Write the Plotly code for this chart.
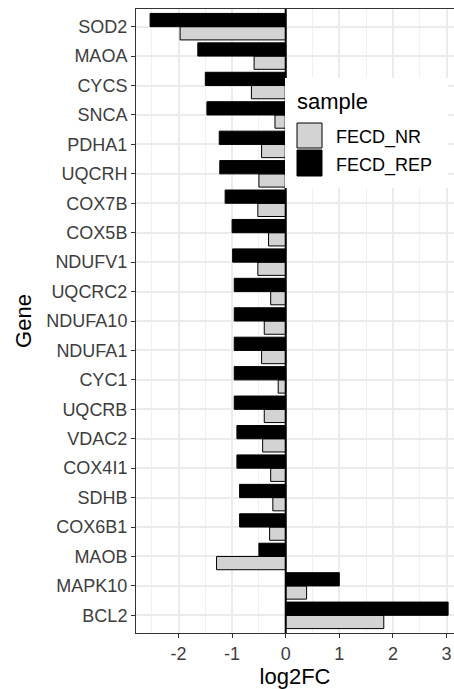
import plotly.graph_objects as go

genes = ["SOD2", "MAOA", "CYCS", "SNCA", "PDHA1", "UQCRH", "COX7B", "COX5B",
         "NDUFV1", "UQCRC2", "NDUFA10", "NDUFA1", "CYC1", "UQCRB", "VDAC2",
         "COX4I1", "SDHB", "COX6B1", "MAOB", "MAPK10", "BCL2"]
fecd_rep = [-2.53, -1.64, -1.50, -1.47, -1.24, -1.23, -1.13, -1.00,
            -0.99, -0.96, -0.96, -0.96, -0.96, -0.96, -0.91,
            -0.91, -0.86, -0.86, -0.50, 1.00, 3.03]
fecd_nr = [-1.97, -0.59, -0.64, -0.20, -0.45, -0.50, -0.52, -0.32,
           -0.52, -0.28, -0.40, -0.45, -0.14, -0.40, -0.43,
           -0.28, -0.24, -0.30, -1.29, 0.39, 1.83]
x_ticks = [-2, -1, 0, 1, 2, 3]

FONT = "Liberation Sans, Arial, sans-serif"
NR_COLOR = "#d3d3d3"
REP_COLOR = "#000000"
TICK_COLOR = "#3d3d3d"

fig = go.Figure()
fig.add_trace(go.Bar(y=genes, x=fecd_nr, orientation="h", name="FECD_NR",
                     marker=dict(color=NR_COLOR, line=dict(color="black", width=1)),
                     showlegend=False))
fig.add_trace(go.Bar(y=genes, x=fecd_rep, orientation="h", name="FECD_REP",
                     marker=dict(color=REP_COLOR, line=dict(color="black", width=1)),
                     showlegend=False))

# L, R, T, B in pixels of the panel
L, R, T, B = 136, 454, 9, 633
W, H = R - L, B - T


def px(x):
    return (x - L) / W


def py(y):
    return (B - y) / H


shapes = [
    dict(type="line", xref="x", yref="paper", x0=0, x1=0, y0=0, y1=1,
         line=dict(color="black", width=2), layer="above"),
    # legend background
    dict(type="rect", xref="paper", yref="paper", x0=px(285), x1=px(448),
         y0=py(188), y1=py(78), fillcolor="white", line=dict(width=0), layer="above"),
    dict(type="rect", xref="paper", yref="paper", x0=px(297), x1=px(322),
         y0=py(148), y1=py(123), fillcolor=NR_COLOR,
         line=dict(color="black", width=1), layer="above"),
    dict(type="rect", xref="paper", yref="paper", x0=px(297), x1=px(322),
         y0=py(176), y1=py(150), fillcolor=REP_COLOR,
         line=dict(color="black", width=1), layer="above"),
]
annotations = [
    dict(text="sample", xref="paper", yref="paper", x=px(295), y=py(101),
         xanchor="left", yanchor="middle", showarrow=False,
         font=dict(family=FONT, size=22, color="black")),
    dict(text="FECD_NR", xref="paper", yref="paper", x=px(334), y=py(137),
         xanchor="left", yanchor="middle", showarrow=False,
         font=dict(family=FONT, size=18, color="black")),
    dict(text="FECD_REP", xref="paper", yref="paper", x=px(334), y=py(165),
         xanchor="left", yanchor="middle", showarrow=False,
         font=dict(family=FONT, size=18, color="black")),
]

fig.update_layout(
    width=454, height=689,
    margin=dict(l=L, r=454 - R, t=T, b=689 - B),
    paper_bgcolor="white", plot_bgcolor="white",
    barmode="group", bargap=0.1, bargroupgap=0,
    font=dict(family=FONT),
    shapes=shapes, annotations=annotations,
    xaxis=dict(
        range=[(L - 285.7) / 53.6, (R - 285.7) / 53.6],
        tickvals=x_ticks, ticktext=[str(v) for v in x_ticks],
        ticks="outside", ticklen=4, tickcolor="#333333", tickwidth=1,
        tickfont=dict(family=FONT, size=18, color=TICK_COLOR),
        showgrid=True, gridcolor="#ebebeb", gridwidth=2,
        minor=dict(dtick=0.5, tick0=0.5, showgrid=True, gridcolor="#f0f0f0", gridwidth=1),
        zeroline=False, showline=True, linecolor="#333333", linewidth=1, mirror=True,
        title=dict(text="log2FC", font=dict(family=FONT, size=22, color="black"), standoff=6),
        automargin=False,
    ),
    yaxis=dict(
        categoryorder="array", categoryarray=genes[::-1],
        range=[-0.6, len(genes) - 0.4],
        ticks="outside", ticklen=4, tickcolor="#333333", tickwidth=1,
        tickfont=dict(family=FONT, size=18, color=TICK_COLOR),
        showgrid=True, gridcolor="#ebebeb", gridwidth=2,
        zeroline=False, showline=True, linecolor="#333333", linewidth=1, mirror=False,
        title=dict(text="Gene", font=dict(family=FONT, size=22, color="black"), standoff=8),
        automargin=False,
    ),
)

fig.write_html("out.html")
